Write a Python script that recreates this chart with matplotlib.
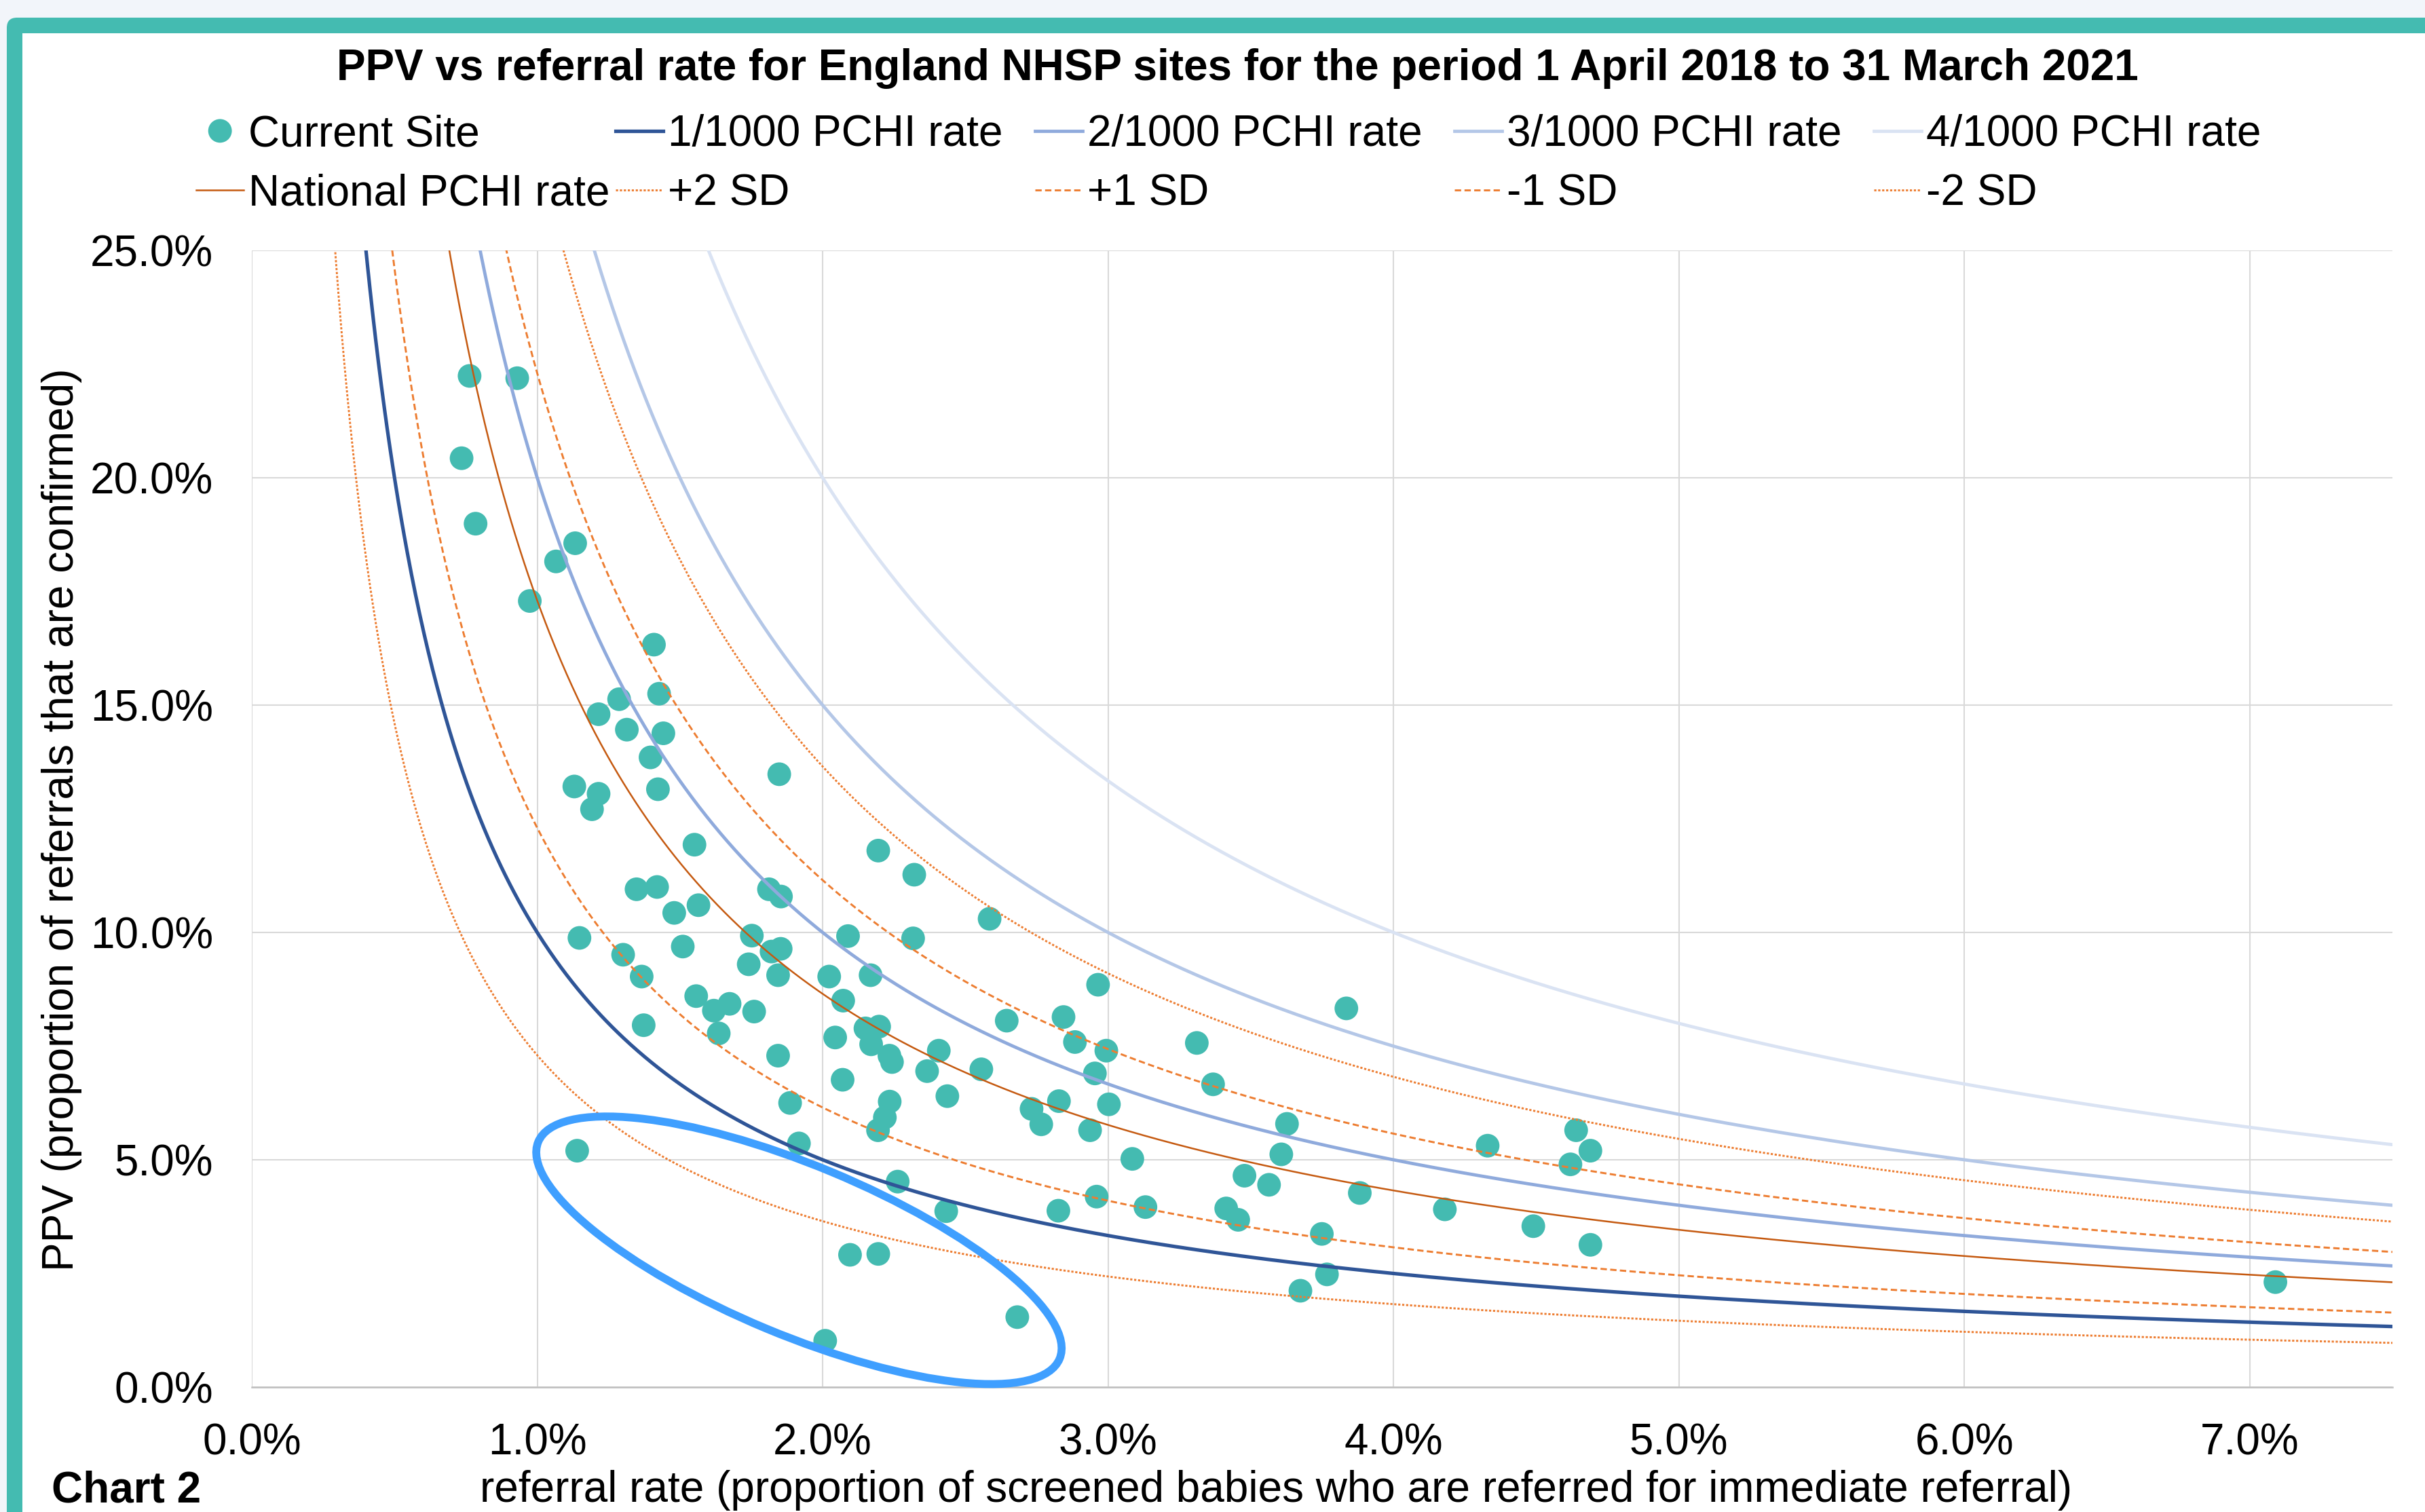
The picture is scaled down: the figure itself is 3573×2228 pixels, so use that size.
import matplotlib
matplotlib.use('Agg')
import matplotlib.pyplot as plt
import numpy as np
from matplotlib.patches import Ellipse, FancyBboxPatch, Rectangle
from matplotlib.transforms import Affine2D, ScaledTranslation
from matplotlib.ticker import PercentFormatter

plt.rcParams['font.family'] = ['Liberation Sans', 'DejaVu Sans']

# ---------------- data ----------------
title = "PPV vs referral rate for England NHSP sites for the period 1 April 2018 to 31 March 2021"
x_label = "referral rate (proportion of screened babies who are referred for immediate referral)"
y_label = "PPV (proportion of referrals that are confirmed)"

# referral rate (%) of each site
site_referral = [0.763, 0.930, 0.735, 0.784, 1.133, 1.066, 0.974, 1.409, 1.427, 1.287,
                 1.215, 1.314, 1.442, 1.397, 1.848, 1.130, 1.215, 1.192, 1.423, 1.551,
                 2.195, 2.321, 1.348, 1.420, 1.812, 1.854, 1.565, 1.480, 2.585, 1.148,
                 1.752, 1.510, 2.089, 2.317, 1.821, 1.853, 1.301, 1.741, 1.366, 1.844,
                 2.023, 2.168, 2.965, 2.072, 1.557, 1.619, 1.674, 1.760, 2.645, 2.844,
                 1.373, 2.150, 2.198, 1.636, 2.044, 2.170, 2.884, 2.994, 2.234, 2.243,
                 2.407, 1.844, 2.366, 2.556, 2.954, 2.070,
                 3.835, 3.311, 3.368, 2.437, 1.886, 2.235, 2.828, 3.003, 2.732, 2.766,
                 2.218, 2.194, 2.937, 3.627, 3.607, 3.085, 1.917, 3.478, 3.564, 3.882,
                 2.263, 2.433, 2.826, 2.960, 3.131, 3.414, 3.456, 3.749, 3.767, 3.674,
                 2.096, 2.195, 2.682, 2.009,
                 4.18, 4.33, 4.49, 4.64, 4.62, 4.69, 4.69, 7.09, 1.14]
# PPV (%) of each site
site_ppv = [22.24, 22.19, 20.43, 18.99, 18.56, 18.16, 17.29, 16.33, 15.25, 15.13,
            14.80, 14.46, 14.38, 13.85, 13.48, 13.21, 13.05, 12.71, 13.15, 11.93,
            11.80, 11.27, 10.95, 11.00, 10.95, 10.79, 10.60, 10.43, 10.30, 9.88,
            9.93, 9.69, 9.92, 9.87, 9.58, 9.64, 9.51, 9.30, 9.03, 9.06,
            9.03, 9.06, 8.85, 8.50, 8.60, 8.28, 8.43, 8.26, 8.06, 8.14,
            7.96, 7.89, 7.93, 7.78, 7.69, 7.54, 7.59, 7.40, 7.29, 7.15,
            7.40, 7.29, 6.95, 6.99, 6.90, 6.76,
            8.33, 7.57, 6.66, 6.40, 6.25, 6.28, 6.29, 6.22, 6.12, 5.78,
            5.93, 5.65, 5.65, 5.79, 5.12, 5.02, 5.36, 4.65, 4.45, 4.27,
            4.52, 3.87, 3.88, 4.19, 3.96, 3.93, 3.68, 3.37, 2.48, 2.12,
            2.91, 2.93, 1.54, 1.02,
            3.91, 5.31, 3.54, 5.65, 4.90, 5.20, 3.13, 2.31, 5.20]

# reference PCHI rates (per 1000)
pchi_rates = [1, 2, 3, 4]
pchi_labels = ["1/1000 PCHI rate", "2/1000 PCHI rate", "3/1000 PCHI rate", "4/1000 PCHI rate"]
national_rate = 1.73
national_sd = 0.50
sd_multipliers = [2, 1, -1, -2]
sd_labels = ["+2 SD", "+1 SD", "-1 SD", "-2 SD"]

x_ticks = [0, 1, 2, 3, 4, 5, 6, 7]
y_ticks = [0, 5, 10, 15, 20, 25]

# ---------------- style ----------------
teal = '#44BBB1'
pchi_colors = ['#2F5597', '#8FAADC', '#B4C7E7', '#DAE3F3']
pchi_widths = [1.25, 1.15, 1.15, 1.15]
nat_color = '#C55A11'
sd_color = '#ED7D31'
sd_styles = [(0, (1.1, 0.9)), (0, (3.2, 1.7)), (0, (3.2, 1.7)), (0, (1.1, 0.9))]
FS = 15.35

W, H, DPI = 3573, 2228, 300
fig = plt.figure(figsize=(W / DPI, H / DPI), dpi=DPI, facecolor='#F2F5FA')


def inch(p):
    return p / DPI


# card with teal border (top and left)
fig.patches.append(FancyBboxPatch((inch(10), inch(-100)), inch(W + 100), inch(H - 26 + 100),
                                  boxstyle='round,pad=0,rounding_size=0.05',
                                  transform=fig.dpi_scale_trans, facecolor=teal,
                                  edgecolor='none', zorder=-3))
fig.patches.append(Rectangle((inch(33), inch(-100)), inch(W + 100), inch(H - 49 + 100),
                             transform=fig.dpi_scale_trans, facecolor='white',
                             edgecolor='none', zorder=-2))

L, R, T, B = 371, 3525, 369, 2044
ax = fig.add_axes([L / W, (H - B) / H, (R - L) / W, (B - T) / H])
ax.set_zorder(1)
ax.set_facecolor('none')
ax.set_xlim(0, 7.5)
ax.set_ylim(0, 25)
ax.set_xticks(x_ticks)
ax.set_yticks(y_ticks)
ax.xaxis.set_major_formatter(PercentFormatter(xmax=100, decimals=1))
ax.yaxis.set_major_formatter(PercentFormatter(xmax=100, decimals=1))
ax.grid(True, color='#D9D9D9', lw=0.5)
ax.set_axisbelow(True)
for s in ['top', 'right', 'left']:
    ax.spines[s].set_visible(False)
ax.spines['bottom'].set_color('#BFBFBF')
ax.spines['bottom'].set_linewidth(0.6)
ax.tick_params(axis='both', length=0, labelsize=FS, colors='black')
ax.tick_params(axis='x', pad=12.5)
ax.tick_params(axis='y', pad=13.7)

sc = ax.scatter(site_referral, site_ppv, s=70, color=teal, edgecolors='none',
                zorder=2, label='Current Site')

xr = np.linspace(0.02, 7.5, 1500)
pchi_lines = []
for r, c, w_, lab in zip(pchi_rates, pchi_colors, pchi_widths, pchi_labels):
    ln, = ax.plot(xr, 10 * r / xr, color=c, lw=w_, label=lab, zorder=3)
    pchi_lines.append(ln)
nat_line, = ax.plot(xr, 10 * national_rate / xr, color=nat_color, lw=0.6,
                    label="National PCHI rate", zorder=3)
sd_lines = []
for k, ls_, lab in zip(sd_multipliers, sd_styles, sd_labels):
    rate = national_rate + k * national_sd
    ln, = ax.plot(xr, 10 * rate / xr, color=sd_color, lw=0.7, ls=ls_, label=lab, zorder=3)
    sd_lines.append(ln)

# highlight ellipse (in pixel space around a data-space centre)
ell_tr = Affine2D().rotate_deg(-22.6) + ScaledTranslation(1.917, 3.01, ax.transData)
ell = Ellipse((0, 0), width=2 * 416, height=2 * 125, facecolor='none',
              edgecolor='#3F9FFF', lw=2.8, transform=ell_tr, zorder=5, clip_on=False)
ax.add_artist(ell)

# legend: 5 equally spaced columns, 2 rows
cols = [[sc, nat_line], [pchi_lines[0], sd_lines[0]], [pchi_lines[1], sd_lines[1]],
        [pchi_lines[2], sd_lines[2]], [pchi_lines[3], sd_lines[3]]]
for i, hs in enumerate(cols):
    fig.legend(handles=hs, labels=[h.get_label() for h in hs], loc='center left',
               bbox_to_anchor=((289 + 618 * i) / W, 1 - 242 / H), frameon=False,
               fontsize=FS, handlelength=1.1, handletextpad=0.11, borderpad=0,
               borderaxespad=0, labelspacing=0.43, scatterpoints=1,
               scatteryoffsets=[0.5])

fig.text(1823 / W, 1 - 118 / H, title, ha='center', va='baseline', fontsize=FS,
         fontweight='bold')
fig.text(1880 / W, 1 - 2213 / H, x_label, ha='center', va='baseline', fontsize=FS)
fig.text(76 / W, 1 - 2213 / H, "Chart 2", ha='left', va='baseline', fontsize=FS,
         fontweight='bold')
fig.text(91 / W, 1 - 1208 / H, y_label, ha='center', va='center', rotation=90,
         fontsize=FS)

fig.savefig('out.png', dpi=DPI, facecolor=fig.get_facecolor())
